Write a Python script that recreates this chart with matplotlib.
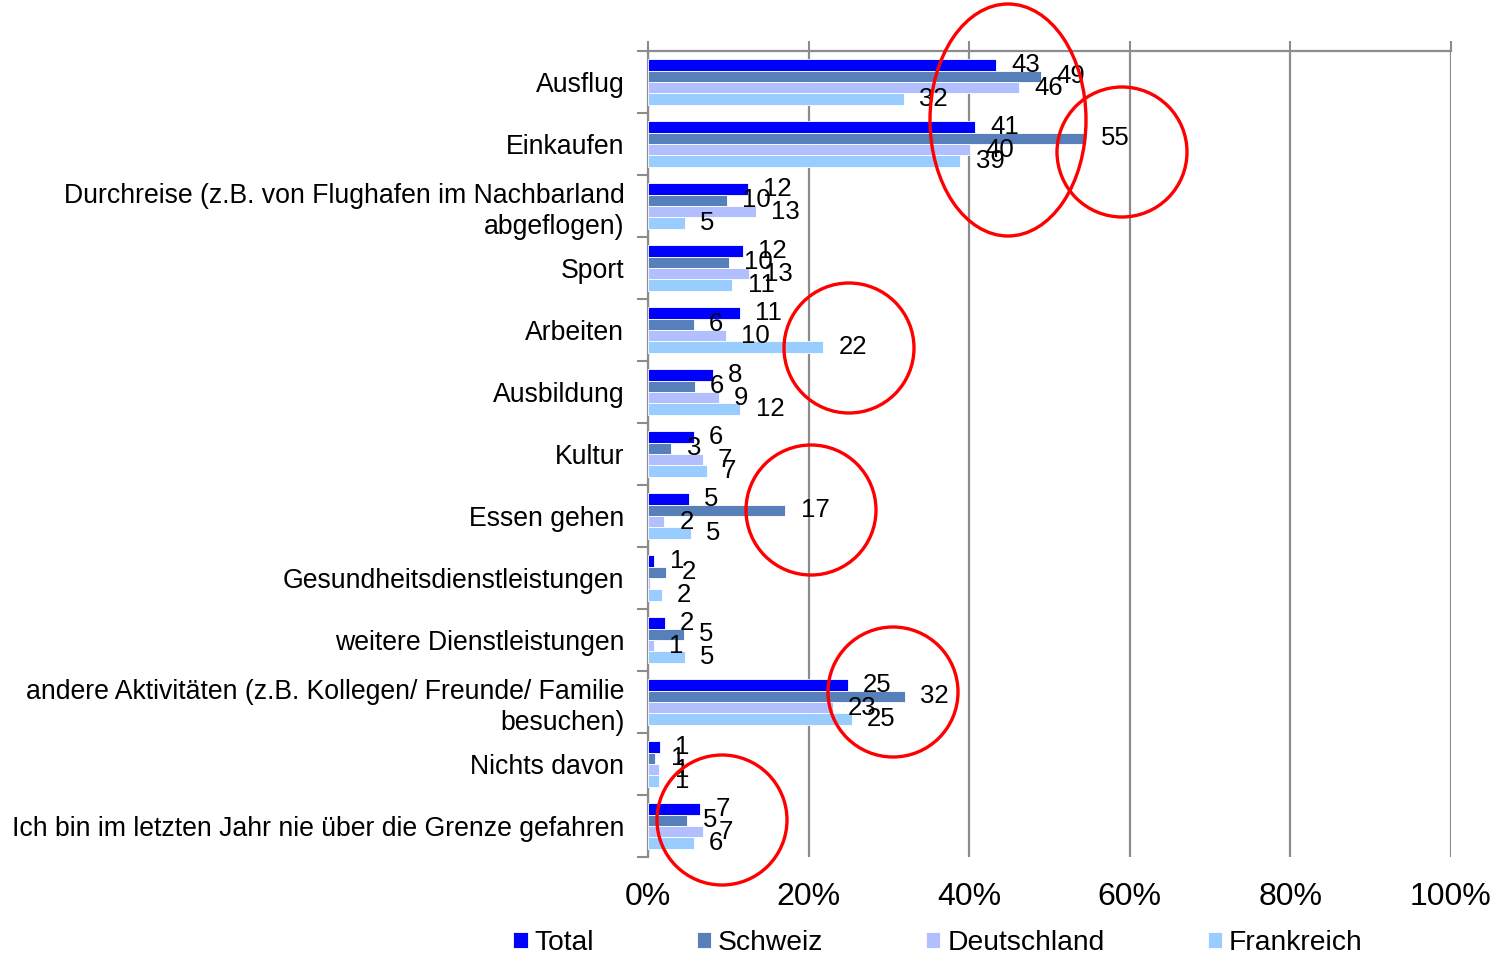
import numpy as np
import matplotlib.pyplot as plt
from matplotlib.patches import Ellipse

plt.rcParams['font.family'] = ['Liberation Sans', 'DejaVu Sans']

# Kategorien (von oben nach unten)
categories = [
    'Ausflug',
    'Einkaufen',
    'Durchreise (z.B. von Flughafen im Nachbarland\nabgeflogen)',
    'Sport',
    'Arbeiten',
    'Ausbildung',
    'Kultur',
    'Essen gehen',
    'Gesundheitsdienstleistungen',
    'weitere Dienstleistungen',
    'andere Aktivitäten (z.B. Kollegen/ Freunde/ Familie\nbesuchen)',
    'Nichts davon',
    'Ich bin im letzten Jahr nie über die Grenze gefahren',
]

series_names = ['Total', 'Schweiz', 'Deutschland', 'Frankreich']
colors = ['#0000FF', '#577FBA', '#B1BFFF', '#99CCFF']

# Balkenlängen in Prozent
total = [43.3, 40.7, 12.4, 11.8, 11.4, 8.1, 5.7, 5.1, 0.8, 2.1, 24.9, 1.5, 6.5]
schweiz = [49.0, 54.5, 9.8, 10.1, 5.7, 5.8, 2.9, 17.1, 2.3, 4.5, 32.0, 0.9, 4.9]
deutschland = [46.2, 40.1, 13.4, 12.6, 9.7, 8.8, 6.8, 2.0, 0.3, 0.7, 23.0, 1.4, 6.9]
frankreich = [31.9, 38.9, 4.6, 10.5, 21.8, 11.5, 7.3, 5.3, 1.7, 4.6, 25.4, 1.4, 5.7]

# Datenbeschriftungen (gerundet)
total_lbl = ['43', '41', '12', '12', '11', '8', '6', '5', '1', '2', '25', '1', '7']
schweiz_lbl = ['49', '55', '10', '10', '6', '6', '3', '17', '2', '5', '32', '1', '5']
deutschland_lbl = ['46', '40', '13', '13', '10', '9', '7', '2', '', '1', '23', '1', '7']
frankreich_lbl = ['32', '39', '5', '11', '22', '12', '7', '5', '2', '5', '25', '1', '6']

series = [total, schweiz, deutschland, frankreich]
labels = [total_lbl, schweiz_lbl, deutschland_lbl, frankreich_lbl]

fig = plt.figure(figsize=(14.96, 9.56), dpi=100)
ax = fig.add_axes([648 / 1496, 1 - 857 / 956, 803 / 1496, 806 / 956])

y = np.arange(len(categories))
h = 0.182
for j, (vals, lbls) in enumerate(zip(series, labels)):
    bars = ax.barh(y + (j - 1.5) * h, vals, height=h, color=colors[j],
                   edgecolor='white', linewidth=0.6, label=series_names[j], zorder=3)
    ax.bar_label(bars, labels=lbls, padding=11, fontsize=18.5, color='black', zorder=5)

ax.set_xlim(0, 100)
ax.set_ylim(len(categories) - 0.5, -0.5)

# x-Achse: Gitter, Beschriftung unten
ax.set_xticks(np.arange(0, 101, 20))
ax.set_xticklabels([f'{v}%' for v in range(0, 101, 20)], fontsize=23)
ax.tick_params(axis='x', which='both', bottom=False, top=True, labelbottom=True,
               labeltop=False, length=7, width=1.5, color='#8C8C8C', pad=11)
ax.grid(axis='x', color='#8C8C8C', linewidth=1.6, zorder=0)

# y-Achse: Kategorien, Striche an den Grenzen
ax.set_yticks(y)
ax.set_yticklabels(categories, fontsize=19.2, linespacing=1.25)
ax.tick_params(axis='y', which='major', length=0, pad=17)
ax.set_yticks(np.arange(len(categories) + 1) - 0.5, minor=True)
ax.tick_params(axis='y', which='minor', length=8, width=1.5, color='#8C8C8C')

for s in ['right', 'bottom']:
    ax.spines[s].set_visible(False)
for s in ['left', 'top']:
    ax.spines[s].set_color('#8C8C8C')
    ax.spines[s].set_linewidth(1.6)

# Legende unten
handles, hlabels = ax.get_legend_handles_labels()
fig.legend(handles, hlabels, loc='center', bbox_to_anchor=(938 / 1496, 1 - 943 / 956),
           ncol=4, frameon=False, fontsize=20.3, handlelength=0.5, handleheight=0.5,
           handletextpad=0.25, columnspacing=3.65)

# rote Markierungen (Ellipsen in Pixelkoordinaten)
marks = [(1008, 120, 156, 232), (1122, 152, 130, 130), (849, 348, 130, 130),
         (811, 510, 130, 130), (893, 692, 130, 130), (722, 820, 130, 130)]
for cx, cy, w, hh in marks:
    fig.patches.append(Ellipse((cx / 1496, 1 - cy / 956), w / 1496, hh / 956,
                               transform=fig.transFigure, fill=False,
                               edgecolor='#FF0000', linewidth=2.4, zorder=10))

fig.savefig('out.png', dpi=100)
